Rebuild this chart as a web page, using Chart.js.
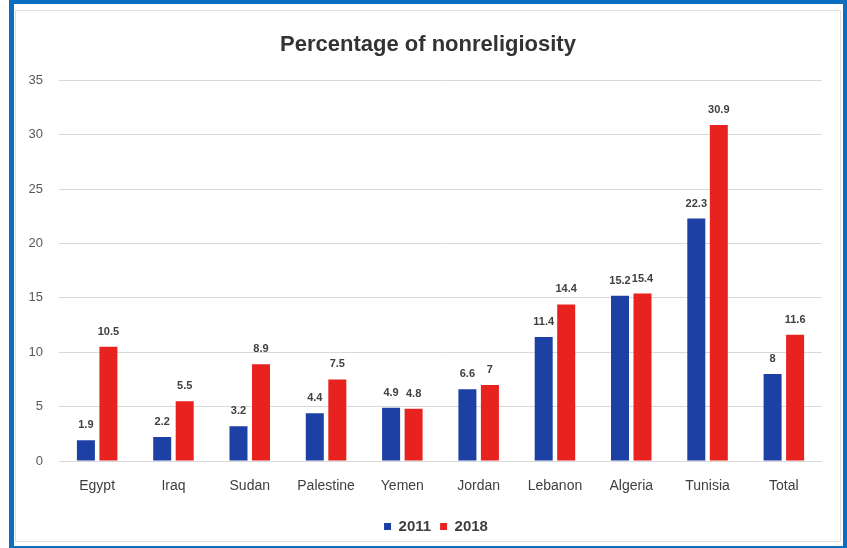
<!DOCTYPE html>
<html>
<head>
<meta charset="utf-8">
<script src="https://cdn.jsdelivr.net/npm/chart.js@4/dist/chart.umd.min.js"></script>
<style>
  html, body { margin: 0; padding: 0; background: #ffffff; }
  #wrap { position: relative; width: 847px; height: 548px; overflow: hidden; }
  #frame {
    position: absolute; left: 9px; top: 0; right: 0; bottom: 0;
    border-left: 5px solid #0a6fc0; border-top: 4px solid #0a6fc0;
    border-right: 4px solid #0a6fc0; border-bottom: 2px solid #0a6fc0;
  }
  #inner {
    position: absolute; left: 15px; top: 10px; width: 826px; height: 532px;
    border: 1px solid #dedede; box-sizing: border-box;
  }
  canvas { position: absolute; left: 0; top: 0; }
</style>
</head>
<body>
<div id="wrap">
  <div id="frame"></div>
  <div id="inner"></div>
  <canvas id="c" width="847" height="548"></canvas>
</div>
<script>
const categories = ['Egypt', 'Iraq', 'Sudan', 'Palestine', 'Yemen', 'Jordan', 'Lebanon', 'Algeria', 'Tunisia', 'Total'];
const values2011 = [1.9, 2.2, 3.2, 4.4, 4.9, 6.6, 11.4, 15.2, 22.3, 8];
const values2018 = [10.5, 5.5, 8.9, 7.5, 4.8, 7, 14.4, 15.4, 30.9, 11.6];
const seriesNames = ['2011', '2018'];
const chartTitle = 'Percentage of nonreligiosity';

const FONT = "'Liberation Sans', Arial, sans-serif";

// Draws each bar's value just above its top
const valueLabels = {
  id: 'valueLabels',
  afterDatasetsDraw(chart) {
    const ctx = chart.ctx;
    ctx.save();
    ctx.font = 'bold 11px ' + FONT;
    ctx.fillStyle = '#404040';
    ctx.textAlign = 'center';
    ctx.textBaseline = 'middle';
    chart.data.datasets.forEach((ds, i) => {
      const meta = chart.getDatasetMeta(i);
      meta.data.forEach((bar, j) => {
        ctx.fillText(String(ds.data[j]), bar.x, bar.y - 15);
      });
    });
    ctx.restore();
  }
};

// Nudges the title and legend boxes to the right so they sit centred on the frame
const centreBlocks = {
  id: 'centreBlocks',
  afterLayout(chart) {
    const t = chart.titleBlock;
    if (t) { t.left += 17; t.right += 17; }
    const l = chart.legend;
    if (l) { l.left += 25; l.right += 25; }
  }
};

new Chart(document.getElementById('c'), {
  type: 'bar',
  data: {
    labels: categories,
    datasets: [
      { label: seriesNames[0], data: values2011, backgroundColor: '#1d40a4' },
      { label: seriesNames[1], data: values2018, backgroundColor: '#e8231f' }
    ]
  },
  options: {
    responsive: false,
    animation: false,
    devicePixelRatio: 1,
    categoryPercentage: 0.59,
    barPercentage: 0.8,
    layout: { padding: { left: 0, right: 25, top: 0, bottom: 4 } },
    plugins: {
      title: {
        display: true,
        text: chartTitle,
        color: '#333333',
        font: { family: FONT, size: 22, weight: 'bold', lineHeight: 1.2 },
        padding: { top: 32, bottom: 22 }
      },
      legend: {
        position: 'bottom',
        labels: {
          color: '#404040',
          font: { family: FONT, size: 15, weight: 'bold' },
          boxWidth: 7,
          boxHeight: 7,
          padding: 9
        }
      },
      tooltip: { enabled: false }
    },
    scales: {
      x: {
        grid: { display: false, drawTicks: false },
        border: { display: false },
        ticks: { color: '#404040', font: { family: FONT, size: 14 }, padding: 17, maxRotation: 0 },
        afterFit(scale) { scale.height = 49; }
      },
      y: {
        min: 0, max: 35,
        ticks: { stepSize: 5, color: '#595959', font: { family: FONT, size: 13 }, padding: 16 },
        grid: { color: '#d9d9d9', lineWidth: 1, drawTicks: false },
        border: { display: false },
        afterFit(scale) { scale.width = 59; }
      }
    }
  },
  plugins: [valueLabels, centreBlocks]
});
</script>
</body>
</html>
